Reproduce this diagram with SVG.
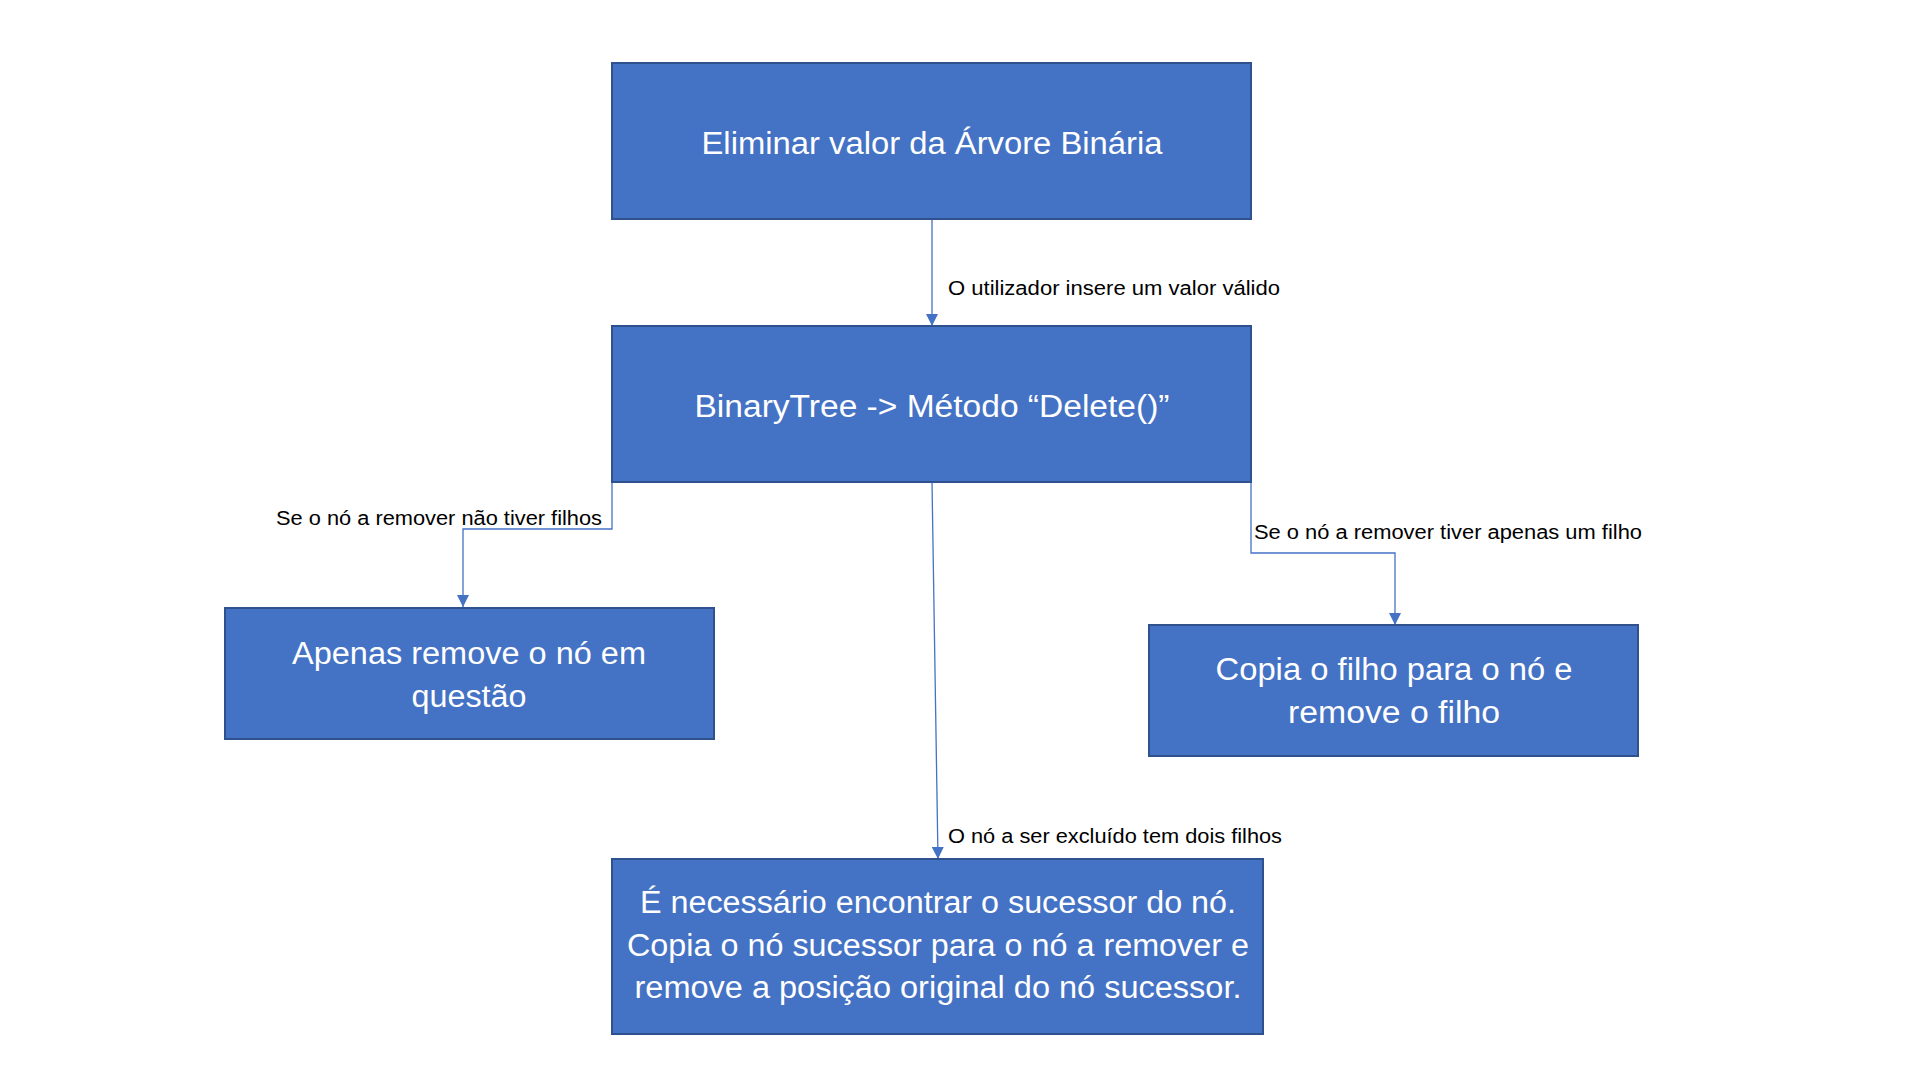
<svg xmlns="http://www.w3.org/2000/svg" width="1919" height="1078" viewBox="0 0 1919 1078">
<style>
.box{fill:#4472C4;stroke:#2F528F;stroke-width:2}
.bt{font-family:"Liberation Sans",Arial,sans-serif;font-size:31px;fill:#ffffff;text-anchor:middle}
.lb{font-family:"Liberation Sans",Arial,sans-serif;font-size:20px;fill:#000000}
.cn{fill:none;stroke:#4472C4;stroke-width:1.3}
</style>
<defs>
<marker id="arr" markerUnits="userSpaceOnUse" markerWidth="12" markerHeight="12" viewBox="0 0 12 12" refX="12" refY="6" orient="auto">
<path d="M0,0 L12,6 L0,12 Z" fill="#4472C4"/>
</marker>
</defs>
<rect width="1919" height="1078" fill="#ffffff"/>
<g id="connectors">
<path class="cn" d="M932,220 L932,326" marker-end="url(#arr)"/>
<path class="cn" d="M612,482 L612,529 L463,529 L463,607" marker-end="url(#arr)"/>
<path class="cn" d="M1251,482 L1251,553 L1395,553 L1395,625" marker-end="url(#arr)"/>
<path class="cn" d="M932,482 L938,859" marker-end="url(#arr)"/>
<text class="lb" x="948" y="295" textLength="332" lengthAdjust="spacingAndGlyphs">O utilizador insere um valor válido</text>
<text class="lb" x="276" y="525" textLength="326" lengthAdjust="spacingAndGlyphs">Se o nó a remover não tiver filhos</text>
<text class="lb" x="1254" y="539" textLength="388" lengthAdjust="spacingAndGlyphs">Se o nó a remover tiver apenas um filho</text>
<text class="lb" x="948" y="843" textLength="334" lengthAdjust="spacingAndGlyphs">O nó a ser excluído tem dois filhos</text>
</g>
<g id="node-eliminar">
<rect class="box" x="612" y="63" width="639" height="156"/>
<text class="bt" x="932" y="154" textLength="461" lengthAdjust="spacingAndGlyphs">Eliminar valor da Árvore Binária</text>
</g>
<g id="node-delete">
<rect class="box" x="612" y="326" width="639" height="156"/>
<text class="bt" x="932" y="417" textLength="475" lengthAdjust="spacingAndGlyphs">BinaryTree -&gt; Método “Delete()”</text>
</g>
<g id="node-sem-filhos">
<rect class="box" x="225" y="608" width="489" height="131"/>
<text class="bt" x="469" y="664" textLength="354" lengthAdjust="spacingAndGlyphs">Apenas remove o nó em</text>
<text class="bt" x="469" y="707" textLength="115" lengthAdjust="spacingAndGlyphs">questão</text>
</g>
<g id="node-um-filho">
<rect class="box" x="1149" y="625" width="489" height="131"/>
<text class="bt" x="1394" y="680" textLength="357" lengthAdjust="spacingAndGlyphs">Copia o filho para o nó e</text>
<text class="bt" x="1394" y="723" textLength="212" lengthAdjust="spacingAndGlyphs">remove o filho</text>
</g>
<g id="node-dois-filhos">
<rect class="box" x="612" y="859" width="651" height="175"/>
<text class="bt" x="938" y="913" textLength="596" lengthAdjust="spacingAndGlyphs">É necessário encontrar o sucessor do nó.</text>
<text class="bt" x="938" y="956" textLength="622" lengthAdjust="spacingAndGlyphs">Copia o nó sucessor para o nó a remover e</text>
<text class="bt" x="938" y="998" textLength="607" lengthAdjust="spacingAndGlyphs">remove a posição original do nó sucessor.</text>
</g>
</svg>
